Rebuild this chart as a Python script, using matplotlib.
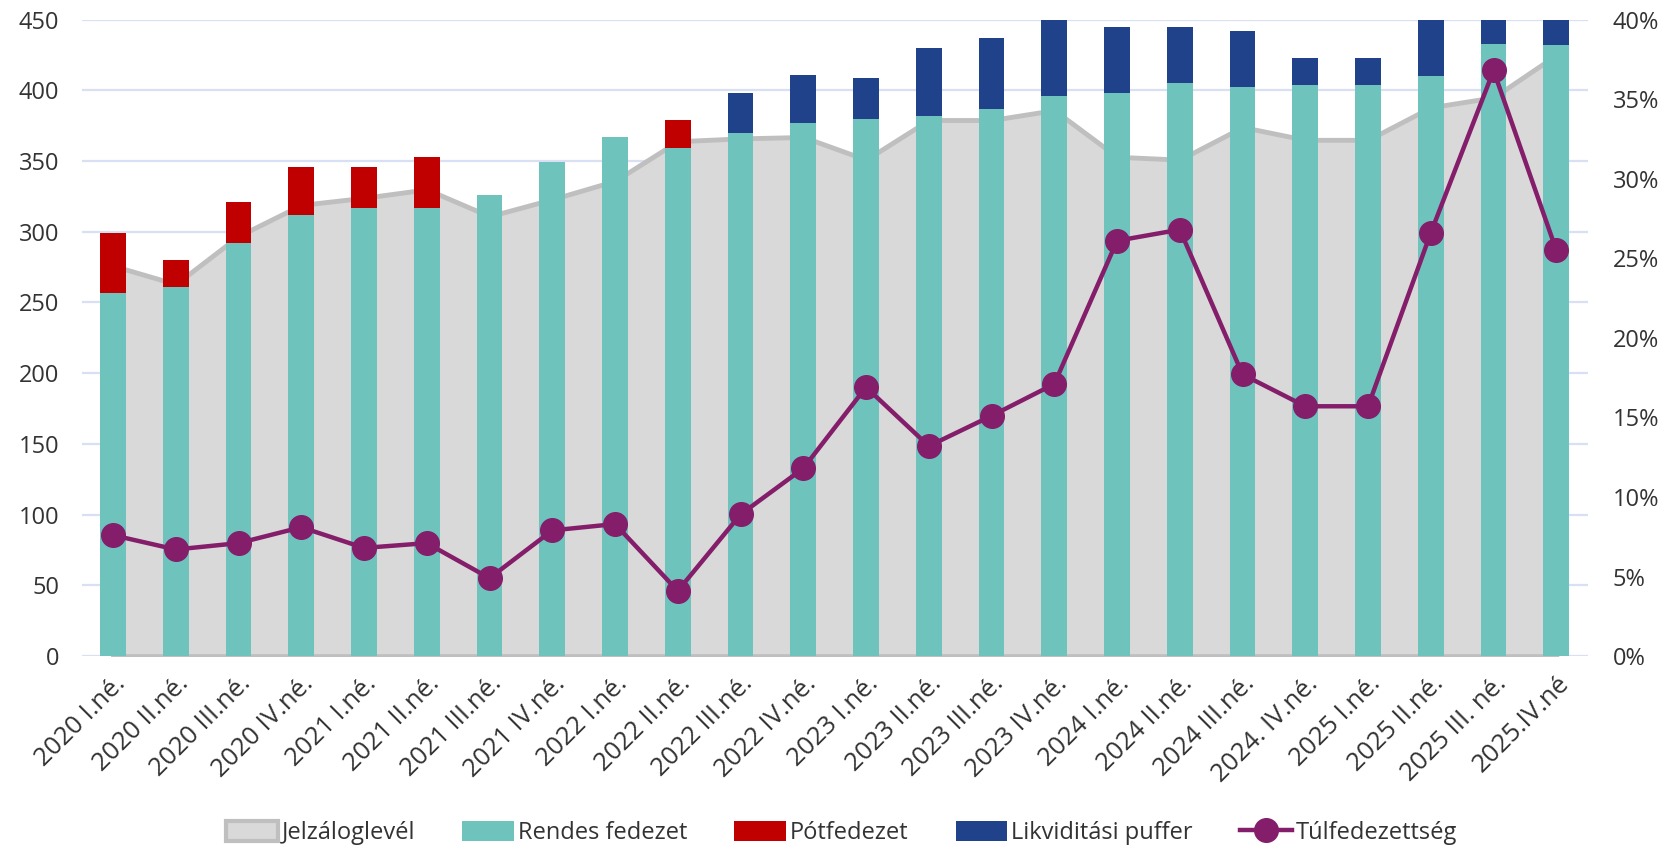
import numpy as np
import matplotlib
matplotlib.use("Agg")
import matplotlib.pyplot as plt
from matplotlib.patches import Patch
from matplotlib.lines import Line2D
from matplotlib.ticker import PercentFormatter, MultipleLocator

plt.rcParams['font.family'] = ['Open Sans', 'DejaVu Sans']

quarters = ["2020 I.né.", "2020 II.né.", "2020 III.né.", "2020 IV.né.",
            "2021 I.né.", "2021 II.né.", "2021 III.né.", "2021 IV.né.",
            "2022 I.né.", "2022 II.né.", "2022 III.né.", "2022 IV.né.",
            "2023 I.né.", "2023 II.né.", "2023 III.né.", "2023 IV.né.",
            "2024 I.né.", "2024 II.né.", "2024 III.né.", "2024. IV.né.",
            "2025 I.né.", "2025 II.né.", "2025 III. né.", "2025.IV.né"]

# Jelzáloglevél (area)
mortgage = [276, 263, 297, 319, 324, 330, 311, 323, 336, 364, 366, 367,
            351, 379, 379, 386, 353, 351, 374, 365, 365, 388, 395, 425]
# Rendes fedezet
regular = [257, 261, 292, 312, 317, 317, 326, 349, 367, 359, 370, 377,
           380, 382, 387, 396, 398, 405, 402, 404, 404, 410, 433, 432]
# Pótfedezet
extra = [42, 19, 29, 34, 29, 36, 0, 0, 0, 20, 0, 0,
         0, 0, 0, 0, 0, 0, 0, 0, 0, 0, 0, 0]
# Likviditási puffer
liquidity = [0, 0, 0, 0, 0, 0, 0, 0, 0, 0, 28, 34,
             29, 48, 50, 62, 47, 40, 40, 19, 19, 50, 40, 40]
# Túlfedezettség (%)
overcollat = [7.6, 6.7, 7.1, 8.1, 6.8, 7.1, 4.9, 7.9, 8.3, 4.1, 8.9, 11.8,
              16.9, 13.2, 15.1, 17.1, 26.1, 26.8, 17.7, 15.7, 15.7, 26.6, 36.8, 25.5]

c_area, c_area_edge = '#d9d9d9', '#bfbfbf'
c_teal, c_red, c_blue, c_purple = '#6fc3bd', '#c00000', '#1f428a', '#841d6a'
txt = '#333333'
fs = 17

fig = plt.figure(figsize=(16.66, 8.51), dpi=100)
ax = fig.add_axes([0.049, 0.229, 0.904, 0.748])

x = np.arange(len(quarters))
reg = np.array(regular)
ext = np.array(extra)
liq = np.array(liquidity)

ax.fill_between(x, 0, mortgage, facecolor=c_area, edgecolor=c_area_edge,
                linewidth=3.5, zorder=1)
w = 0.41
ax.bar(x, reg, width=w, color=c_teal, zorder=2)
ax.bar(x, ext, width=w, bottom=reg, color=c_red, zorder=2)
ax.bar(x, liq, width=w, bottom=reg + ext, color=c_blue, zorder=2)

ax.set_xlim(-0.5, len(quarters) - 0.5)
ax.set_ylim(0, 450)
ax.yaxis.set_major_locator(MultipleLocator(50))
ax.yaxis.grid(True, color='#d9e0f3', linewidth=1.6, zorder=0)
ax.set_axisbelow(True)
for s in ax.spines.values():
    s.set_visible(False)
ax.set_xticks(x)
ax.set_xticklabels(quarters, rotation=45, ha='right', va='top',
                   rotation_mode='anchor')
ax.tick_params(axis='x', length=0, pad=11, labelsize=18.5, labelcolor=txt)
ax.tick_params(axis='y', length=0, pad=16, labelsize=fs, labelcolor=txt)

ax2 = ax.twinx()
ax2.plot(x, overcollat, color=c_purple, linewidth=3.2, marker='o',
         markersize=17, zorder=5)
ax2.set_ylim(0, 40)
ax2.yaxis.set_major_locator(MultipleLocator(5))
ax2.yaxis.set_major_formatter(PercentFormatter(decimals=0))
ax2.tick_params(axis='y', length=0, pad=18, labelsize=fs, labelcolor=txt)
for s in ax2.spines.values():
    s.set_visible(False)

handles = [
    Patch(facecolor=c_area, edgecolor=c_area_edge, linewidth=3),
    Patch(facecolor=c_teal),
    Patch(facecolor=c_red),
    Patch(facecolor=c_blue),
    Line2D([], [], color=c_purple, linewidth=3.2, marker='o', markersize=17),
]
labels = ['Jelzáloglevél', 'Rendes fedezet', 'Pótfedezet',
          'Likviditási puffer', 'Túlfedezettség']
fig.legend(handles, labels, loc='lower center', bbox_to_anchor=(0.505, -0.018),
           ncol=5, frameon=False, fontsize=fs, labelcolor=txt,
           handlelength=2.2, handleheight=0.9, handletextpad=0.15,
           columnspacing=2.0)

fig.savefig('out.png', dpi=100)
